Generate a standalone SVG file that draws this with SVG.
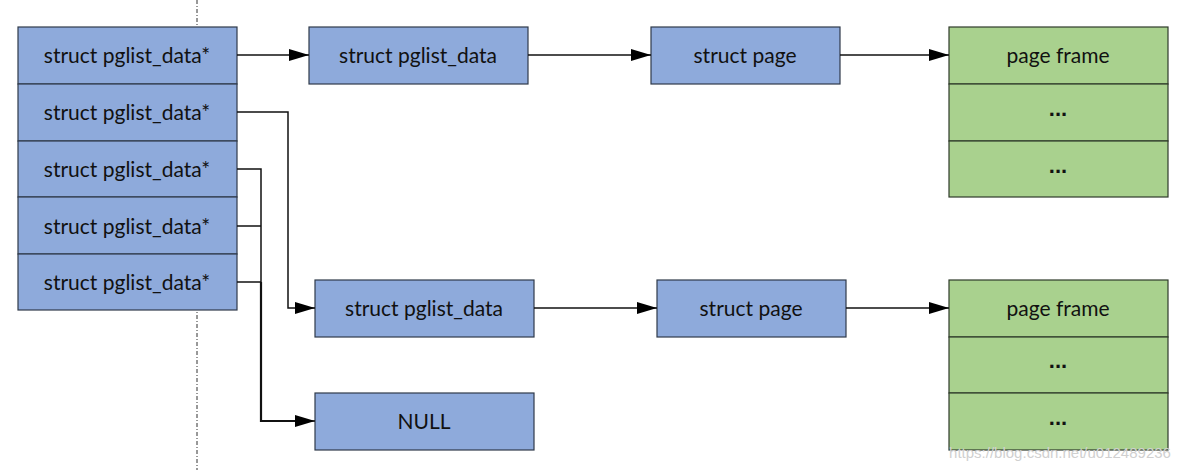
<svg xmlns="http://www.w3.org/2000/svg" width="1177" height="470" viewBox="0 0 1177 470">
<style>
.b{fill:#8eaadb;stroke:#2f3a4a;stroke-width:1.2}
.g{fill:#a9d18e;stroke:#2f3a2a;stroke-width:1.2}
.t{font-family:Lato,"Open Sans",sans-serif;font-size:21px;fill:#111;text-anchor:middle;dominant-baseline:central}
.d{font-family:"Liberation Sans",sans-serif;font-size:22px;font-weight:bold;fill:#111;text-anchor:middle}
.c{fill:none;stroke:#111;stroke-width:1.5}
</style>
<defs>
<marker id="ah" markerWidth="20" markerHeight="12" refX="20" refY="6" orient="auto" markerUnits="userSpaceOnUse">
<path d="M0,0 L20,6 L0,12 Z" fill="#000"/>
</marker>
</defs>
<rect width="1177" height="470" fill="#fff"/>
<line x1="197" y1="0" x2="197" y2="470" stroke="#333" stroke-width="1" stroke-dasharray="4,2,1,2"/>
<g id="ptrs">
<rect class="b" x="18" y="27" width="219" height="57"/>
<rect class="b" x="18" y="84" width="219" height="57"/>
<rect class="b" x="18" y="141" width="219" height="56"/>
<rect class="b" x="18" y="197" width="219" height="57"/>
<rect class="b" x="18" y="254" width="219" height="56"/>
<text class="t" x="127" y="54">struct pglist_data*</text>
<text class="t" x="127" y="111">struct pglist_data*</text>
<text class="t" x="127" y="168">struct pglist_data*</text>
<text class="t" x="127" y="225">struct pglist_data*</text>
<text class="t" x="127" y="281">struct pglist_data*</text>
</g>
<g id="pg1">
<rect class="b" x="309" y="27" width="219" height="57"/>
<text class="t" x="418" y="54">struct pglist_data</text>
</g>
<g id="page1">
<rect class="b" x="651" y="27" width="189" height="57"/>
<text class="t" x="745" y="54">struct page</text>
</g>
<g id="frame1">
<rect class="g" x="949" y="27" width="219" height="57"/>
<rect class="g" x="949" y="84" width="219" height="57"/>
<rect class="g" x="949" y="141" width="219" height="56"/>
<text class="t" x="1058" y="54">page frame</text>
<text class="d" x="1058" y="116">...</text>
<text class="d" x="1058" y="173">...</text>
</g>
<g id="pg2">
<rect class="b" x="315" y="280" width="219" height="57"/>
<text class="t" x="424" y="307">struct pglist_data</text>
</g>
<g id="page2">
<rect class="b" x="657" y="280" width="189" height="57"/>
<text class="t" x="751" y="307">struct page</text>
</g>
<g id="frame2">
<rect class="g" x="949" y="280" width="219" height="57"/>
<rect class="g" x="949" y="337" width="219" height="56"/>
<rect class="g" x="949" y="393" width="219" height="57"/>
<text class="t" x="1058" y="307">page frame</text>
<text class="d" x="1058" y="368">...</text>
<text class="d" x="1058" y="425">...</text>
</g>
<g id="null">
<rect class="b" x="315" y="393" width="219" height="57"/>
<text class="t" x="424" y="420">NULL</text>
</g>
<g id="connectors">
<path class="c" d="M237,55 H309" marker-end="url(#ah)"/>
<path class="c" d="M528,55 H651" marker-end="url(#ah)"/>
<path class="c" d="M840,55 H949" marker-end="url(#ah)"/>
<path class="c" d="M237,112 H288 V308 H315" marker-end="url(#ah)"/>
<path class="c" d="M534,308 H657" marker-end="url(#ah)"/>
<path class="c" d="M846,308 H949" marker-end="url(#ah)"/>
<path class="c" d="M237,169 H261 V421 H315" marker-end="url(#ah)"/>
<path class="c" d="M237,226 H261"/>
<path class="c" d="M237,282 H261"/>
<path d="M261,282 V421 H295" fill="none" stroke="#111" stroke-width="2.2"/>
</g>
<text x="1060" y="458" font-family="Liberation Sans,sans-serif" font-size="15" fill="#d0d0d0" text-anchor="middle">https://blog.csdn.net/u012489236</text>
</svg>
